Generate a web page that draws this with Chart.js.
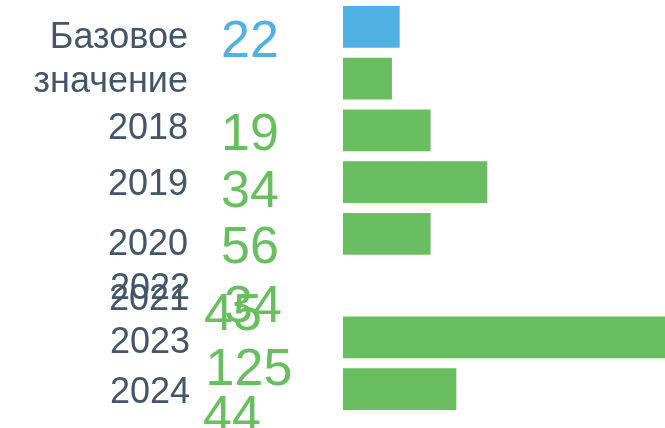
<!DOCTYPE html>
<html lang="ru">
<head>
    <meta charset="UTF-8">
    <title>Базовое значение</title>
    <script src="https://cdn.jsdelivr.net/npm/chart.js@4.4.1/dist/chart.umd.min.js"></script>
    <style>
        body { margin: 0; background: #fff; }
        #wrap { width: 665px; height: 428px; position: relative; }
    </style>
</head>
<body>
    <div id="wrap"><canvas id="bars"></canvas></div>
    <script>
        // data
        const categories = ['Базовое значение', '2018', '2019', '2020', '2021', '2022', '2023', '2024'];
        const values = [22, 19, 34, 56, 34, 45, 125, 44];
        const hasBar = [true, true, true, true, true, false, true, true];

        const BLUE = '#52b1e3';
        const GREEN = '#69be5f';
        const TEXT = '#44546a';

        // text column layout (baselines / anchors in px)
        const labelRight = [188, 188, 188, 188, 189, 190, 190, 190];
        const labelBase = [48, 139, 195, 255, 310, 299, 353, 403];
        const numX = [250, 250, 250, 250, 253, 233, 249, 232];
        const numBase = [57, 150, 207, 263, 322, 330, 385, 432];

        const textColumns = {
            id: 'textColumns',
            afterDraw(chart) {
                const ctx = chart.ctx;
                ctx.save();
                ctx.textBaseline = 'alphabetic';
                categories.forEach((name, i) => {
                    ctx.font = '36px "Liberation Sans", Arial, sans-serif';
                    ctx.fillStyle = TEXT;
                    ctx.textAlign = 'right';
                    const lines = name.split(' ');
                    lines.forEach((ln, k) => ctx.fillText(ln, labelRight[i], labelBase[i] + k * 44));

                    ctx.font = '52px "Liberation Sans", Arial, sans-serif';
                    ctx.fillStyle = i === 0 ? BLUE : GREEN;
                    ctx.textAlign = 'center';
                    ctx.fillText(String(values[i]), numX[i], numBase[i]);
                });
                ctx.restore();
            }
        };

        new Chart(document.getElementById('bars'), {
            type: 'bar',
            data: {
                labels: categories,
                datasets: [{
                    data: values.map((v, i) => hasBar[i] ? v : null),
                    backgroundColor: values.map((v, i) => i === 0 ? BLUE : GREEN),
                    borderWidth: 0,
                    categoryPercentage: 0.9,
                    barPercentage: 0.9
                }]
            },
            options: {
                indexAxis: 'y',
                responsive: true,
                maintainAspectRatio: false,
                animation: false,
                layout: { padding: { left: 343, right: 0, top: 1, bottom: 13 } },
                scales: {
                    x: { display: false, min: 0, max: 125 },
                    y: { display: false }
                },
                plugins: {
                    legend: { display: false },
                    tooltip: { enabled: false }
                }
            },
            plugins: [textColumns]
        });
    </script>
</body>
</html>
